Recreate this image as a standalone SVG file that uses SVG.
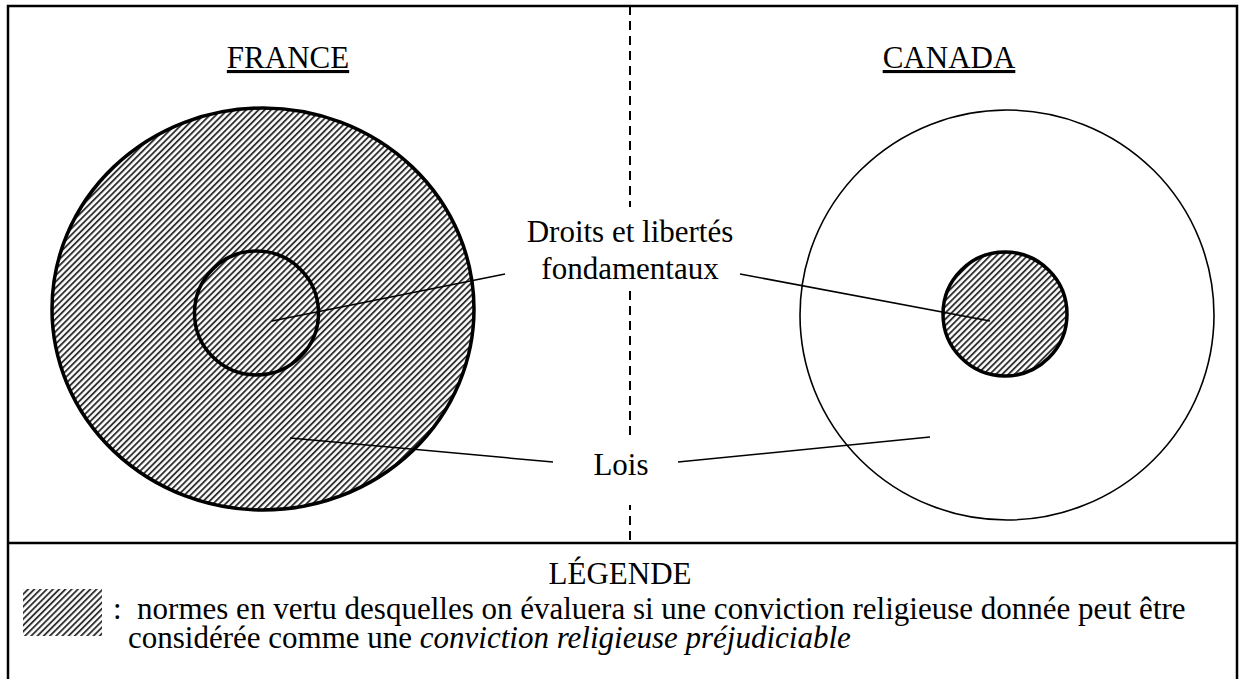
<svg xmlns="http://www.w3.org/2000/svg" width="1243" height="679" viewBox="0 0 1243 679">
<defs>
<pattern id="hatch" patternUnits="userSpaceOnUse" width="4.4" height="4.4" patternTransform="rotate(45)">
<rect width="4.4" height="4.4" fill="#fff"/>
<rect width="1.9" height="4.4" fill="#333"/>
</pattern>
</defs>
<style>
.lead{stroke:#000;stroke-width:1.5;fill:none}
.frame{stroke:#000;stroke-width:2.5;fill:none}
</style>
<rect width="1243" height="679" fill="#fff"/>
<g id="frame">
<path class="frame" d="M8,679 V6 H1237 V679"/>
<line class="frame" x1="8" y1="543" x2="1237" y2="543"/>
<line x1="630" y1="6" x2="630" y2="543" stroke="#000" stroke-width="2" stroke-dasharray="9,6"/>
</g>
<g id="france">
<text x="288" y="68" font-family="'Liberation Serif', serif" font-size="31" text-anchor="middle" text-decoration="underline">FRANCE</text>
<ellipse cx="263" cy="309" rx="211" ry="201" fill="url(#hatch)" stroke="#000" stroke-width="3.5"/>
<circle cx="256.5" cy="313" r="62" fill="none" stroke="#000" stroke-width="3.5"/>
</g>
<g id="canada">
<text x="949" y="68" font-family="'Liberation Serif', serif" font-size="31" text-anchor="middle" text-decoration="underline">CANADA</text>
<ellipse cx="1007" cy="315" rx="207" ry="205" fill="#fff" stroke="#000" stroke-width="1.6"/>
<circle cx="1005" cy="314" r="62" fill="url(#hatch)" stroke="#000" stroke-width="3.5"/>
</g>
<g id="labels">
<rect x="515" y="207" width="230" height="84" fill="#fff"/>
<rect x="590" y="440" width="60" height="65" fill="#fff"/>
<text x="630" y="242" font-family="'Liberation Serif', serif" font-size="31" text-anchor="middle">Droits et libertés</text>
<text x="630" y="279" font-family="'Liberation Serif', serif" font-size="31" text-anchor="middle">fondamentaux</text>
<text x="621" y="475" font-family="'Liberation Serif', serif" font-size="31" text-anchor="middle">Lois</text>
</g>
<g id="connectors">
<line class="lead" x1="272" y1="321" x2="505" y2="274"/>
<line class="lead" x1="740" y1="274" x2="990" y2="321"/>
<line class="lead" x1="290" y1="438" x2="553" y2="462"/>
<line class="lead" x1="678" y1="462" x2="930" y2="437"/>
</g>
<g id="legend">
<text x="620" y="584" font-family="'Liberation Serif', serif" font-size="31" text-anchor="middle">LÉGENDE</text>
<rect x="23" y="589" width="79" height="47" fill="url(#hatch)"/>
<text x="113" y="619" font-family="'Liberation Serif', serif" font-size="31" xml:space="preserve">:  normes en vertu desquelles on évaluera si une conviction religieuse donnée peut être</text>
<text x="128" y="648" font-family="'Liberation Serif', serif" font-size="31">considérée comme une <tspan font-style="italic">conviction religieuse préjudiciable</tspan></text>
</g>
</svg>
